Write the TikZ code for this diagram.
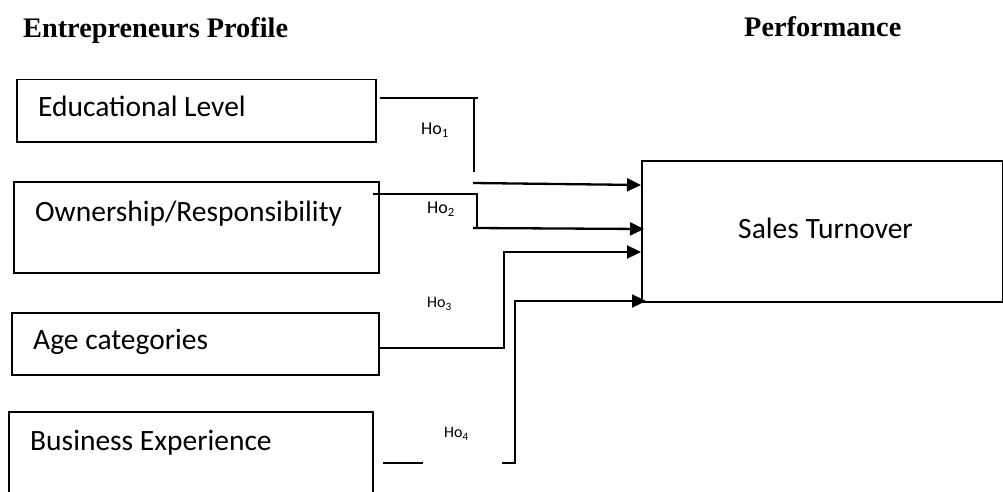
\documentclass[tikz,border=0pt]{standalone}
\usepackage{fontspec}
\setmainfont{Carlito}
\newfontfamily\titlefont{Liberation Serif}
\usetikzlibrary{arrows.meta}
\begin{document}
\begin{tikzpicture}[x=1pt,y=-1pt,
  box/.style={draw, line width=1.5pt, inner sep=0pt, anchor=north west},
  lbl/.style={anchor=base west, inner sep=0pt, font=\fontsize{29.5}{31}\selectfont},
  ttl/.style={anchor=base west, inner sep=0pt, font=\titlefont\bfseries\fontsize{28.3}{30}\selectfont},
  ho/.style={anchor=west, inner sep=0pt, font=\fontsize{18}{19}\selectfont},
  hos/.style={anchor=west, inner sep=0pt, font=\fontsize{16}{17}\selectfont},
  wire/.style={line width=2pt},
  arr/.style={line width=2.3pt, -{Triangle[length=14pt,width=13pt]}}]
\useasboundingbox (0,0) rectangle (1003,492);
\clip (0,0) rectangle (1003,492);

% titles
\node[ttl] (t1) at (23,38) {Entrepreneurs Profile};
\node[ttl] (t2) at (744,37) {Performance};

% boxes
\node[box, minimum width=359pt, minimum height=62pt] (edu) at (16,79) {};
\node[box, minimum width=365pt, minimum height=91pt] (own) at (13,181) {};
\node[box, minimum width=367pt, minimum height=62pt] (age) at (11,312) {};
\node[box, minimum width=364pt, minimum height=110pt] (bus) at (8,411) {};
\node[box, minimum width=361pt, minimum height=141pt] (sales) at (641,160) {};

% box texts
\node[lbl] (edut) at (38,117) {Educational Level};
\node[lbl] (ownt) at (35,221) {Ownership/Responsibility};
\node[lbl] (aget) at (33,349) {Age categories};
\node[lbl] (bust) at (30,450) {Business Experience};
\node[lbl] (salest) at (738,238) {Sales Turnover};

% hypothesis labels
\node[ho] (ho1) at (421,130) {Ho\textsubscript{1}};
\node[ho] (ho2) at (427,209) {Ho\textsubscript{2}};
\node[hos] (ho3) at (427,304) {Ho\textsubscript{3}};
\node[hos] (ho4) at (444,434) {Ho\textsubscript{4}};

% connector points
\coordinate (a1) at (380,98);
\coordinate (a2) at (478,98);
\coordinate (a3) at (474,98);
\coordinate (a4) at (474,172);
\coordinate (a5) at (473,183);
\coordinate (a6) at (641,185);
\coordinate (b1) at (373,194);
\coordinate (b2) at (477,194);
\coordinate (b3) at (477,227);
\coordinate (b4) at (473,228);
\coordinate (b5) at (644,229);
\coordinate (c1) at (378,348);
\coordinate (c2) at (504,348);
\coordinate (c3) at (504,252);
\coordinate (c4) at (641,252);
\coordinate (d1) at (383,463);
\coordinate (d2) at (423,463);
\coordinate (d3) at (502,463);
\coordinate (d4) at (515,463);
\coordinate (d5) at (515,301);
\coordinate (d6) at (646,301);

% Ho1
\draw[wire] (a1) -- (a2);
\draw[wire] (a3) -- (a4);
\draw[arr] (a5) -- (a6);
% Ho2
\draw[wire] (b1) -- (b2) -- (b3);
\draw[arr] (b4) -- (b5);
% Ho3
\draw[arr] (c1) -- (c2) -- (c3) -- (c4);
% Ho4
\draw[wire, line width=2.3pt] (d1) -- (d2);
\draw[arr] (d3) -- (d4) -- (d5) -- (d6);
\end{tikzpicture}
\end{document}
